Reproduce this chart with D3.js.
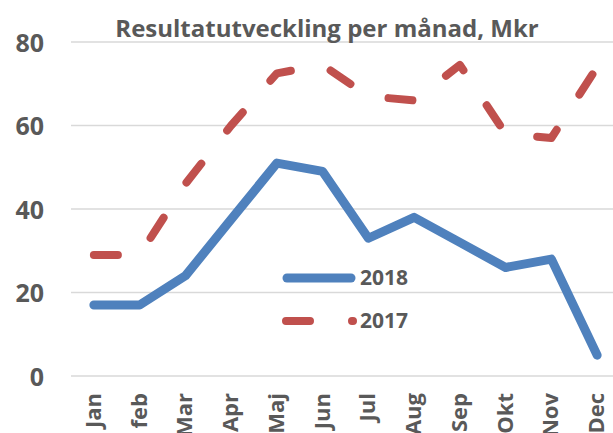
<!DOCTYPE html>
<html>
<head>
<meta charset="utf-8">
<script src="https://cdn.jsdelivr.net/npm/d3@7"></script>
<style>
  body { margin: 0; background: #fff; }
  #graph svg { display: block; }
  text { font-family: "Open Sans", sans-serif; font-weight: bold; fill: #595959; }
</style>
</head>
<body>
<div id="graph"></div>
<script>
//chart data
let months = ["Jan", "feb", "Mar", "Apr", "Maj", "Jun", "Jul", "Aug", "Sep", "Okt", "Nov", "Dec"];
let res2018 = [17, 17, 24, 37.5, 51, 49, 33, 38, 32, 26, 28, 5];
let res2017 = [29, 29, 46, 60, 72.5, 74.5, 67, 66, 74.5, 58, 57, 74];
let yTicks = [0, 20, 40, 60, 80];
let seriesNames = ["2018", "2017"];
let title = "Resultatutveckling per månad, Mkr";

let width = 613,
  height = 433;

let svg = d3
  .select("#graph")
  .append("svg")
  .attr("width", width)
  .attr("height", height);

// scales, plot runs off the right edge like the original
let x = d3.scaleBand().domain(months).range([71, 620]);
let y = d3.scaleLinear().domain([0, 80]).range([376, 42]);

//gridlines
svg
  .append("g")
  .selectAll("line")
  .data(yTicks)
  .join("line")
  .attr("x1", 71)
  .attr("x2", width)
  .attr("y1", (d) => y(d))
  .attr("y2", (d) => y(d))
  .attr("stroke", "#d9d9d9")
  .attr("stroke-width", 1.5);

//y axis labels
let yAxis = svg
  .append("g")
  .attr("transform", "translate(44,0)")
  .call(d3.axisLeft(y).tickValues(yTicks).tickSize(0).tickPadding(0));
yAxis.select(".domain").remove();
yAxis
  .selectAll("text")
  .style("font-size", "25px")
  .attr("fill", "#595959")
  .attr("dy", "0.36em");

//x axis labels, rotated (bottom of the long ones is clipped, same as the original)
let xAxis = svg
  .append("g")
  .attr("transform", "translate(0,393)")
  .call(d3.axisBottom(x).tickSize(0).tickPadding(0));
xAxis.select(".domain").remove();
xAxis
  .selectAll("text")
  .style("font-size", "22px")
  .attr("fill", "#595959")
  .style("text-anchor", "end")
  .attr("x", 0)
  .attr("y", 0)
  .attr("dy", "0.32em")
  .attr("transform", "rotate(-90)");

//lines
let line = d3
  .line()
  .x((d, i) => x(months[i]) + x.bandwidth() / 2)
  .y((d) => y(d));

svg
  .append("path")
  .datum(res2017)
  .attr("d", line)
  .attr("fill", "none")
  .attr("stroke", "#c0504d")
  .attr("stroke-width", 8)
  .attr("stroke-linecap", "round")
  .attr("stroke-linejoin", "round")
  .attr("stroke-dasharray", "24,42");

svg
  .append("path")
  .datum(res2018)
  .attr("d", line)
  .attr("fill", "none")
  .attr("stroke", "#4f81bd")
  .attr("stroke-width", 9)
  .attr("stroke-linecap", "round")
  .attr("stroke-linejoin", "round");

//legend inside the plot
let legend = svg.append("g");
legend
  .append("line")
  .attr("x1", 287)
  .attr("x2", 351)
  .attr("y1", 278)
  .attr("y2", 278)
  .attr("stroke", "#4f81bd")
  .attr("stroke-width", 9)
  .attr("stroke-linecap", "round");
legend
  .append("line")
  .attr("x1", 286)
  .attr("x2", 353)
  .attr("y1", 321)
  .attr("y2", 321)
  .attr("stroke", "#c0504d")
  .attr("stroke-width", 8)
  .attr("stroke-linecap", "round")
  .attr("stroke-dasharray", "24,42");
legend
  .selectAll("text")
  .data(seriesNames)
  .join("text")
  .attr("x", 360)
  .attr("y", (d, i) => (i === 0 ? 285 : 328))
  .style("font-size", "21px")
  .text((d) => d);

//title
svg
  .append("text")
  .attr("x", 327)
  .attr("y", 37)
  .attr("text-anchor", "middle")
  .style("font-size", "24px")
  .text(title);
</script>
</body>
</html>
